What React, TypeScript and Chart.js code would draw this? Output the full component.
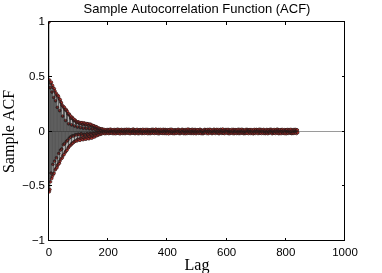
import { useEffect, useRef } from 'react';
import { Chart, registerables } from 'chart.js';

Chart.register(...registerables);

const TITLE = 'Sample Autocorrelation Function (ACF)';
const X_LABEL = 'Lag';
const Y_LABEL = 'Sample ACF';
const X_TICKS = [0, 200, 400, 600, 800, 1000];
const Y_TICKS = [-1, -0.5, 0, 0.5, 1];
const X_RANGE = [0, 1000];
const Y_RANGE = [-1, 1];

// Lags 0..180
const ACF_HEAD = [
  1,
  -0.55, 0.47, -0.53, 0.40, -0.46, 0.44, -0.38, 0.45, -0.43, 0.36,
  -0.41, 0.42, -0.30, 0.40, -0.39, 0.31, -0.38, 0.39, -0.27, 0.37,
  -0.35, 0.28, -0.34, 0.35, -0.24, 0.33, -0.33, 0.22, -0.31, 0.33,
  -0.30, 0.32, -0.20, 0.30, -0.29, 0.19, -0.27, 0.29, -0.17, 0.27,
  -0.25, 0.26, -0.16, 0.24, -0.24, 0.14, -0.22, 0.23, -0.12, 0.22,
  -0.21, 0.22, -0.11, 0.20, -0.19, 0.10, -0.18, 0.20, -0.09, 0.19,
  -0.17, 0.18, -0.08, 0.16, -0.15, 0.07, -0.14, 0.16, -0.06, 0.15,
  -0.13, 0.14, -0.05, 0.12, -0.12, 0.06, -0.11, 0.13, -0.04, 0.12,
  -0.105, 0.115, -0.04, 0.10, -0.095, 0.05, -0.09, 0.105, -0.03, 0.095,
  -0.085, 0.09, -0.03, 0.08, -0.085, 0.04, -0.07, 0.088, -0.025, 0.085,
  -0.075, 0.082, -0.03, 0.07, -0.08, 0.035, -0.06, 0.081, -0.02, 0.075,
  -0.07, 0.08, -0.035, 0.065, -0.075, 0.03, -0.055, 0.078, -0.025, 0.07,
  -0.068, 0.074, -0.03, 0.06, -0.07, 0.028, -0.05, 0.072, -0.02, 0.065,
  -0.062, 0.07, -0.03, 0.055, -0.066, 0.025, -0.045, 0.068, -0.018, 0.06,
  -0.058, 0.064, -0.025, 0.05, -0.06, 0.022, -0.04, 0.055, -0.015, 0.05,
  -0.05, 0.052, -0.02, 0.04, -0.048, 0.018, -0.035, 0.045, -0.012, 0.04,
  -0.038, 0.04, -0.015, 0.03, -0.035, 0.012, -0.025, 0.03, -0.01, 0.028,
  -0.027, 0.026, -0.012, 0.02, -0.025, 0.01, -0.018, 0.024, -0.008, 0.022,
];

// Lags 181..840
const ACF_TAIL = [
  -0.018, 0.012, -0.006, 0.019, -0.015, 0.004, -0.011, 0.017, -0.020, 0.008,
  0.014, -0.009, 0.003, -0.017, 0.016, -0.012, 0.007, -0.003, 0.018, -0.014,
  0.010, -0.019, 0.015, -0.005, 0.011, -0.016, 0.021, -0.008, 0.002, -0.013,
  0.017, -0.004, 0.009, -0.018, 0.013, -0.010, 0.006, 0.016, -0.019, 0.001,
  -0.012, 0.018, -0.007, 0.011, -0.020, 0.015, -0.002, 0.009, -0.016, 0.019,
  0.005, -0.014, 0.020, -0.011, 0.003, -0.017, 0.013, -0.006, 0.016, -0.021,
  0.008, -0.002, 0.015, -0.013, 0.019, -0.007, 0.011, -0.018, 0.004, 0.012,
  -0.016, 0.007, -0.010, 0.018, -0.003, 0.014, -0.019, 0.009, -0.012, 0.017,
  -0.005, 0.020, -0.015, 0.002, -0.009, 0.016, -0.013, 0.006, 0.019, -0.017,
  0.011, -0.006, 0.017, -0.020, 0.008, -0.001, 0.013, -0.015, 0.010, -0.008,
  0.018, -0.012, 0.004, -0.016, 0.022, -0.009, 0.014, -0.004, 0.007, -0.019,
  0.013, -0.017, 0.009, -0.002, 0.016, -0.014, 0.005, 0.019, -0.011, 0.003,
  -0.020, 0.010, -0.007, 0.015, -0.018, 0.012, -0.005, 0.017, -0.013, 0.006,
  0.016, -0.003, 0.011, -0.019, 0.007, -0.015, 0.020, -0.010, 0.001, -0.012,
  0.009, -0.018, 0.014, -0.006, 0.018, -0.011, 0.003, -0.016, 0.012, -0.004,
  0.019, -0.013, 0.006, -0.020, 0.010, -0.007, 0.016, -0.002, 0.013, -0.017,
  -0.008, 0.015, -0.019, 0.004, -0.012, 0.018, -0.006, 0.011, -0.015, 0.020,
  0.002, -0.010, 0.017, -0.014, 0.008, -0.018, 0.012, -0.003, 0.015, -0.009,
  0.021, -0.016, 0.005, -0.011, 0.014, -0.001, 0.009, -0.019, 0.018, -0.007,
  0.012, -0.020, 0.016, -0.008, 0.003, -0.013, 0.019, -0.005, 0.010, -0.015,
  -0.011, 0.006, -0.017, 0.013, -0.004, 0.020, -0.014, 0.008, -0.018, 0.015,
  0.003, -0.012, 0.018, -0.009, 0.015, -0.019, 0.007, -0.014, 0.011, -0.002,
  0.016, -0.008, 0.010, -0.021, 0.013, -0.005, 0.017, -0.011, 0.004, -0.016,
  0.020, -0.003, 0.008, -0.015, 0.019, -0.012, 0.002, -0.018, 0.014, -0.006,
  -0.014, 0.011, -0.020, 0.007, -0.010, 0.016, -0.004, 0.012, -0.017, 0.009,
  0.006, -0.015, 0.013, -0.001, 0.017, -0.009, 0.020, -0.013, 0.008, -0.019,
  0.015, -0.007, 0.003, -0.018, 0.011, -0.014, 0.009, -0.006, 0.019, -0.010,
  -0.002, 0.018, -0.012, 0.014, -0.019, 0.005, -0.016, 0.010, -0.008, 0.017,
  0.010, -0.020, 0.007, -0.013, 0.016, -0.003, 0.012, -0.017, 0.021, -0.011,
  0.004, -0.009, 0.019, -0.016, 0.006, -0.012, 0.015, -0.001, 0.011, -0.018,
  0.017, -0.014, 0.002, -0.010, 0.020, -0.007, 0.013, -0.019, 0.005, -0.013,
  -0.009, 0.016, -0.004, 0.018, -0.015, 0.010, -0.020, 0.003, -0.011, 0.014,
  0.012, -0.006, 0.016, -0.012, 0.001, -0.017, 0.008, -0.014, 0.018, -0.003,
  0.019, -0.011, 0.009, -0.019, 0.014, -0.002, 0.006, -0.015, 0.010, -0.020,
  -0.013, 0.008, -0.016, 0.012, -0.007, 0.019, -0.010, 0.015, -0.004, 0.011,
  0.007, -0.017, 0.012, -0.004, 0.018, -0.013, 0.003, -0.020, 0.016, -0.008,
  0.014, -0.002, 0.020, -0.014, 0.009, -0.006, 0.017, -0.010, 0.002, -0.016,
  -0.019, 0.013, -0.008, 0.005, -0.014, 0.017, -0.003, 0.020, -0.012, 0.006,
  0.011, -0.018, 0.004, -0.009, 0.015, -0.011, 0.019, -0.005, 0.013, -0.015,
  0.001, -0.013, 0.017, -0.020, 0.007, -0.016, 0.010, -0.002, 0.018, -0.010,
  0.018, -0.005, 0.011, -0.017, 0.004, -0.012, 0.022, -0.014, 0.008, -0.003,
  -0.015, 0.009, -0.019, 0.016, -0.006, 0.013, -0.011, 0.018, -0.001, 0.012,
  0.008, -0.016, 0.014, -0.007, 0.019, -0.018, 0.005, -0.012, 0.015, -0.020,
  0.013, -0.010, 0.006, -0.015, 0.010, -0.004, 0.018, -0.009, 0.003, -0.017,
  -0.006, 0.019, -0.013, 0.009, -0.020, 0.014, -0.008, 0.016, -0.014, 0.004,
  0.016, -0.001, 0.010, -0.018, 0.012, -0.015, 0.007, -0.006, 0.020, -0.012,
  0.005, -0.019, 0.018, -0.010, 0.002, -0.011, 0.016, -0.017, 0.009, -0.005,
  0.020, -0.012, 0.004, -0.014, 0.017, -0.008, 0.011, -0.020, 0.006, -0.015,
  -0.010, 0.014, -0.018, 0.003, -0.013, 0.019, -0.005, 0.009, -0.016, 0.018,
  0.009, -0.007, 0.015, -0.019, 0.011, -0.002, 0.014, -0.013, 0.017, -0.009,
  0.015, -0.018, 0.007, -0.005, 0.016, -0.014, 0.002, -0.010, 0.012, -0.021,
  -0.004, 0.012, -0.015, 0.019, -0.009, 0.007, -0.017, 0.013, -0.007, 0.016,
  0.018, -0.013, 0.009, -0.001, 0.014, -0.019, 0.011, -0.004, 0.019, -0.012,
  0.006, -0.016, 0.020, -0.012, 0.005, -0.010, 0.017, -0.018, 0.008, -0.002,
  0.013, -0.009, 0.003, -0.017, 0.019, -0.006, 0.012, -0.015, 0.004, -0.018,
  -0.017, 0.010, -0.006, 0.015, -0.012, 0.018, -0.009, 0.004, -0.020, 0.011,
  0.010, -0.015, 0.016, -0.008, 0.002, -0.013, 0.020, -0.011, 0.014, -0.006,
  0.019, -0.004, 0.012, -0.020, 0.009, -0.016, 0.005, -0.009, 0.016, -0.014,
  -0.008, 0.017, -0.011, 0.006, -0.018, 0.012, -0.002, 0.015, -0.013, 0.020,
  0.003, -0.014, 0.019, -0.006, 0.013, -0.020, 0.008, -0.016, 0.010, -0.001,
  0.016, -0.010, 0.005, -0.019, 0.017, -0.007, 0.013, -0.003, 0.018, -0.015,
  -0.012, 0.007, -0.016, 0.011, -0.004, 0.016, -0.019, 0.009, -0.006, 0.014,
  0.011, -0.020, 0.013, -0.009, 0.018, -0.012, 0.004, -0.017, 0.015, -0.008,
  0.017, -0.006, 0.009, -0.015, 0.006, -0.011, 0.019, -0.013, 0.002, -0.019,
  -0.014, 0.015, -0.003, 0.012, -0.017, 0.009, -0.010, 0.018, -0.015, 0.007,
  0.012, -0.011, 0.018, -0.004, 0.010, -0.018, 0.015, -0.008, 0.013, -0.010,
];

const ACF = [...ACF_HEAD, ...ACF_TAIL];
const LAGS = ACF.map((_, i) => i);
const ZERO_LINE_X = [0, 1000];

const SANS = '"Liberation Sans", Arial, Helvetica, sans-serif';
const SERIF = '"Liberation Serif", "Times New Roman", serif';

const fmtTick = (v: number) => String(v).replace('-', '\u2212');

const boxPlugin = {
  id: 'matlabBox',
  afterDatasetsDraw(chart: any) {
    const { ctx, chartArea: a, scales } = chart;
    const L = 3;
    ctx.save();
    ctx.strokeStyle = '#000';
    ctx.lineWidth = 1;
    ctx.beginPath();
    ctx.rect(Math.round(a.left) - 0.5, Math.round(a.top) - 0.5, Math.round(a.right - a.left), Math.round(a.bottom - a.top));
    ctx.stroke();
    ctx.beginPath();
    for (const t of scales.x.ticks) {
      const px = Math.round(scales.x.getPixelForValue(t.value)) - 0.5;
      ctx.moveTo(px, a.bottom);
      ctx.lineTo(px, a.bottom - L);
      ctx.moveTo(px, a.top);
      ctx.lineTo(px, a.top + L);
    }
    for (const t of scales.y.ticks) {
      const py = Math.round(scales.y.getPixelForValue(t.value)) - 0.5;
      ctx.moveTo(a.left, py);
      ctx.lineTo(a.left + L, py);
      ctx.moveTo(a.right, py);
      ctx.lineTo(a.right - L, py);
    }
    ctx.stroke();
    // chart title, centred over the plot area
    ctx.fillStyle = '#000';
    ctx.font = `13px ${SANS}`;
    ctx.textAlign = 'center';
    ctx.textBaseline = 'middle';
    ctx.fillText(TITLE, (a.left + a.right) / 2, 9.5);
    ctx.restore();
  },
};

export default function App() {
  const ref = useRef<HTMLCanvasElement | null>(null);
  useEffect(() => {
    if (!ref.current) return;
    const points = LAGS.map((x, i) => ({ x, y: ACF[i] }));
    const chart = new Chart(ref.current, {
      type: 'bar',
      data: {
        datasets: [
          {
            type: 'bar',
            data: points,
            backgroundColor: '#1c1c1c',
            barThickness: 0.55,
            inflateAmount: 0,
            borderWidth: 0,
            order: 1,
          } as any,
          {
            type: 'scatter',
            data: points,
            pointRadius: 1.4,
            pointBackgroundColor: '#d0342e',
            pointBorderColor: '#141414',
            pointBorderWidth: 0.6,
            showLine: false,
            order: 2,
          } as any,
          {
            type: 'line',
            data: ZERO_LINE_X.map((x) => ({ x, y: 0 })),
            borderColor: '#9a9a9a',
            borderWidth: 1,
            pointRadius: 0,
            order: 3,
          } as any,
        ],
      },
      options: {
        animation: false,
        responsive: false,
        maintainAspectRatio: false,
        layout: { padding: { left: 0, right: 37, top: 22, bottom: 0 } },
        plugins: {
          legend: { display: false },
          tooltip: { enabled: false },
          title: { display: false },
        },
        scales: {
          x: {
            type: 'linear',
            min: X_RANGE[0],
            max: X_RANGE[1],
            offset: false,
            afterBuildTicks: (s: any) => {
              s.ticks = X_TICKS.map((value) => ({ value }));
            },
            afterFit: (s: any) => {
              s.height = 32;
            },
            grid: { display: false, drawTicks: false },
            border: { display: false },
            ticks: {
              color: '#000',
              font: { family: SANS, size: 11.5 },
              padding: 5,
              maxRotation: 0,
              autoSkip: false,
              callback: (v: any) => fmtTick(Number(v)),
            },
            title: {
              display: true,
              text: X_LABEL,
              color: '#000',
              font: { family: SERIF, size: 16, lineHeight: 1 },
              padding: { top: 0, bottom: -1 },
            },
          },
          y: {
            type: 'linear',
            min: Y_RANGE[0],
            max: Y_RANGE[1],
            afterBuildTicks: (s: any) => {
              s.ticks = Y_TICKS.map((value) => ({ value }));
            },
            afterFit: (s: any) => {
              s.width = 49;
            },
            grid: { display: false, drawTicks: false },
            border: { display: false },
            ticks: {
              color: '#000',
              font: { family: SANS, size: 11.5 },
              padding: 4,
              autoSkip: false,
              callback: (v: any) => fmtTick(Number(v)),
            },
            title: {
              display: true,
              text: Y_LABEL,
              color: '#000',
              font: { family: SERIF, size: 16, lineHeight: 1 },
              padding: { top: 2, bottom: 0 },
            },
          },
        },
      } as any,
      plugins: [boxPlugin],
    });
    return () => chart.destroy();
  }, []);
  return (
    <div style={{ position: 'fixed', left: 0, top: 0, width: 382, height: 273, background: '#fff' }}>
      <canvas ref={ref} width={382} height={273} style={{ width: 382, height: 273, display: 'block' }} />
    </div>
  );
}
